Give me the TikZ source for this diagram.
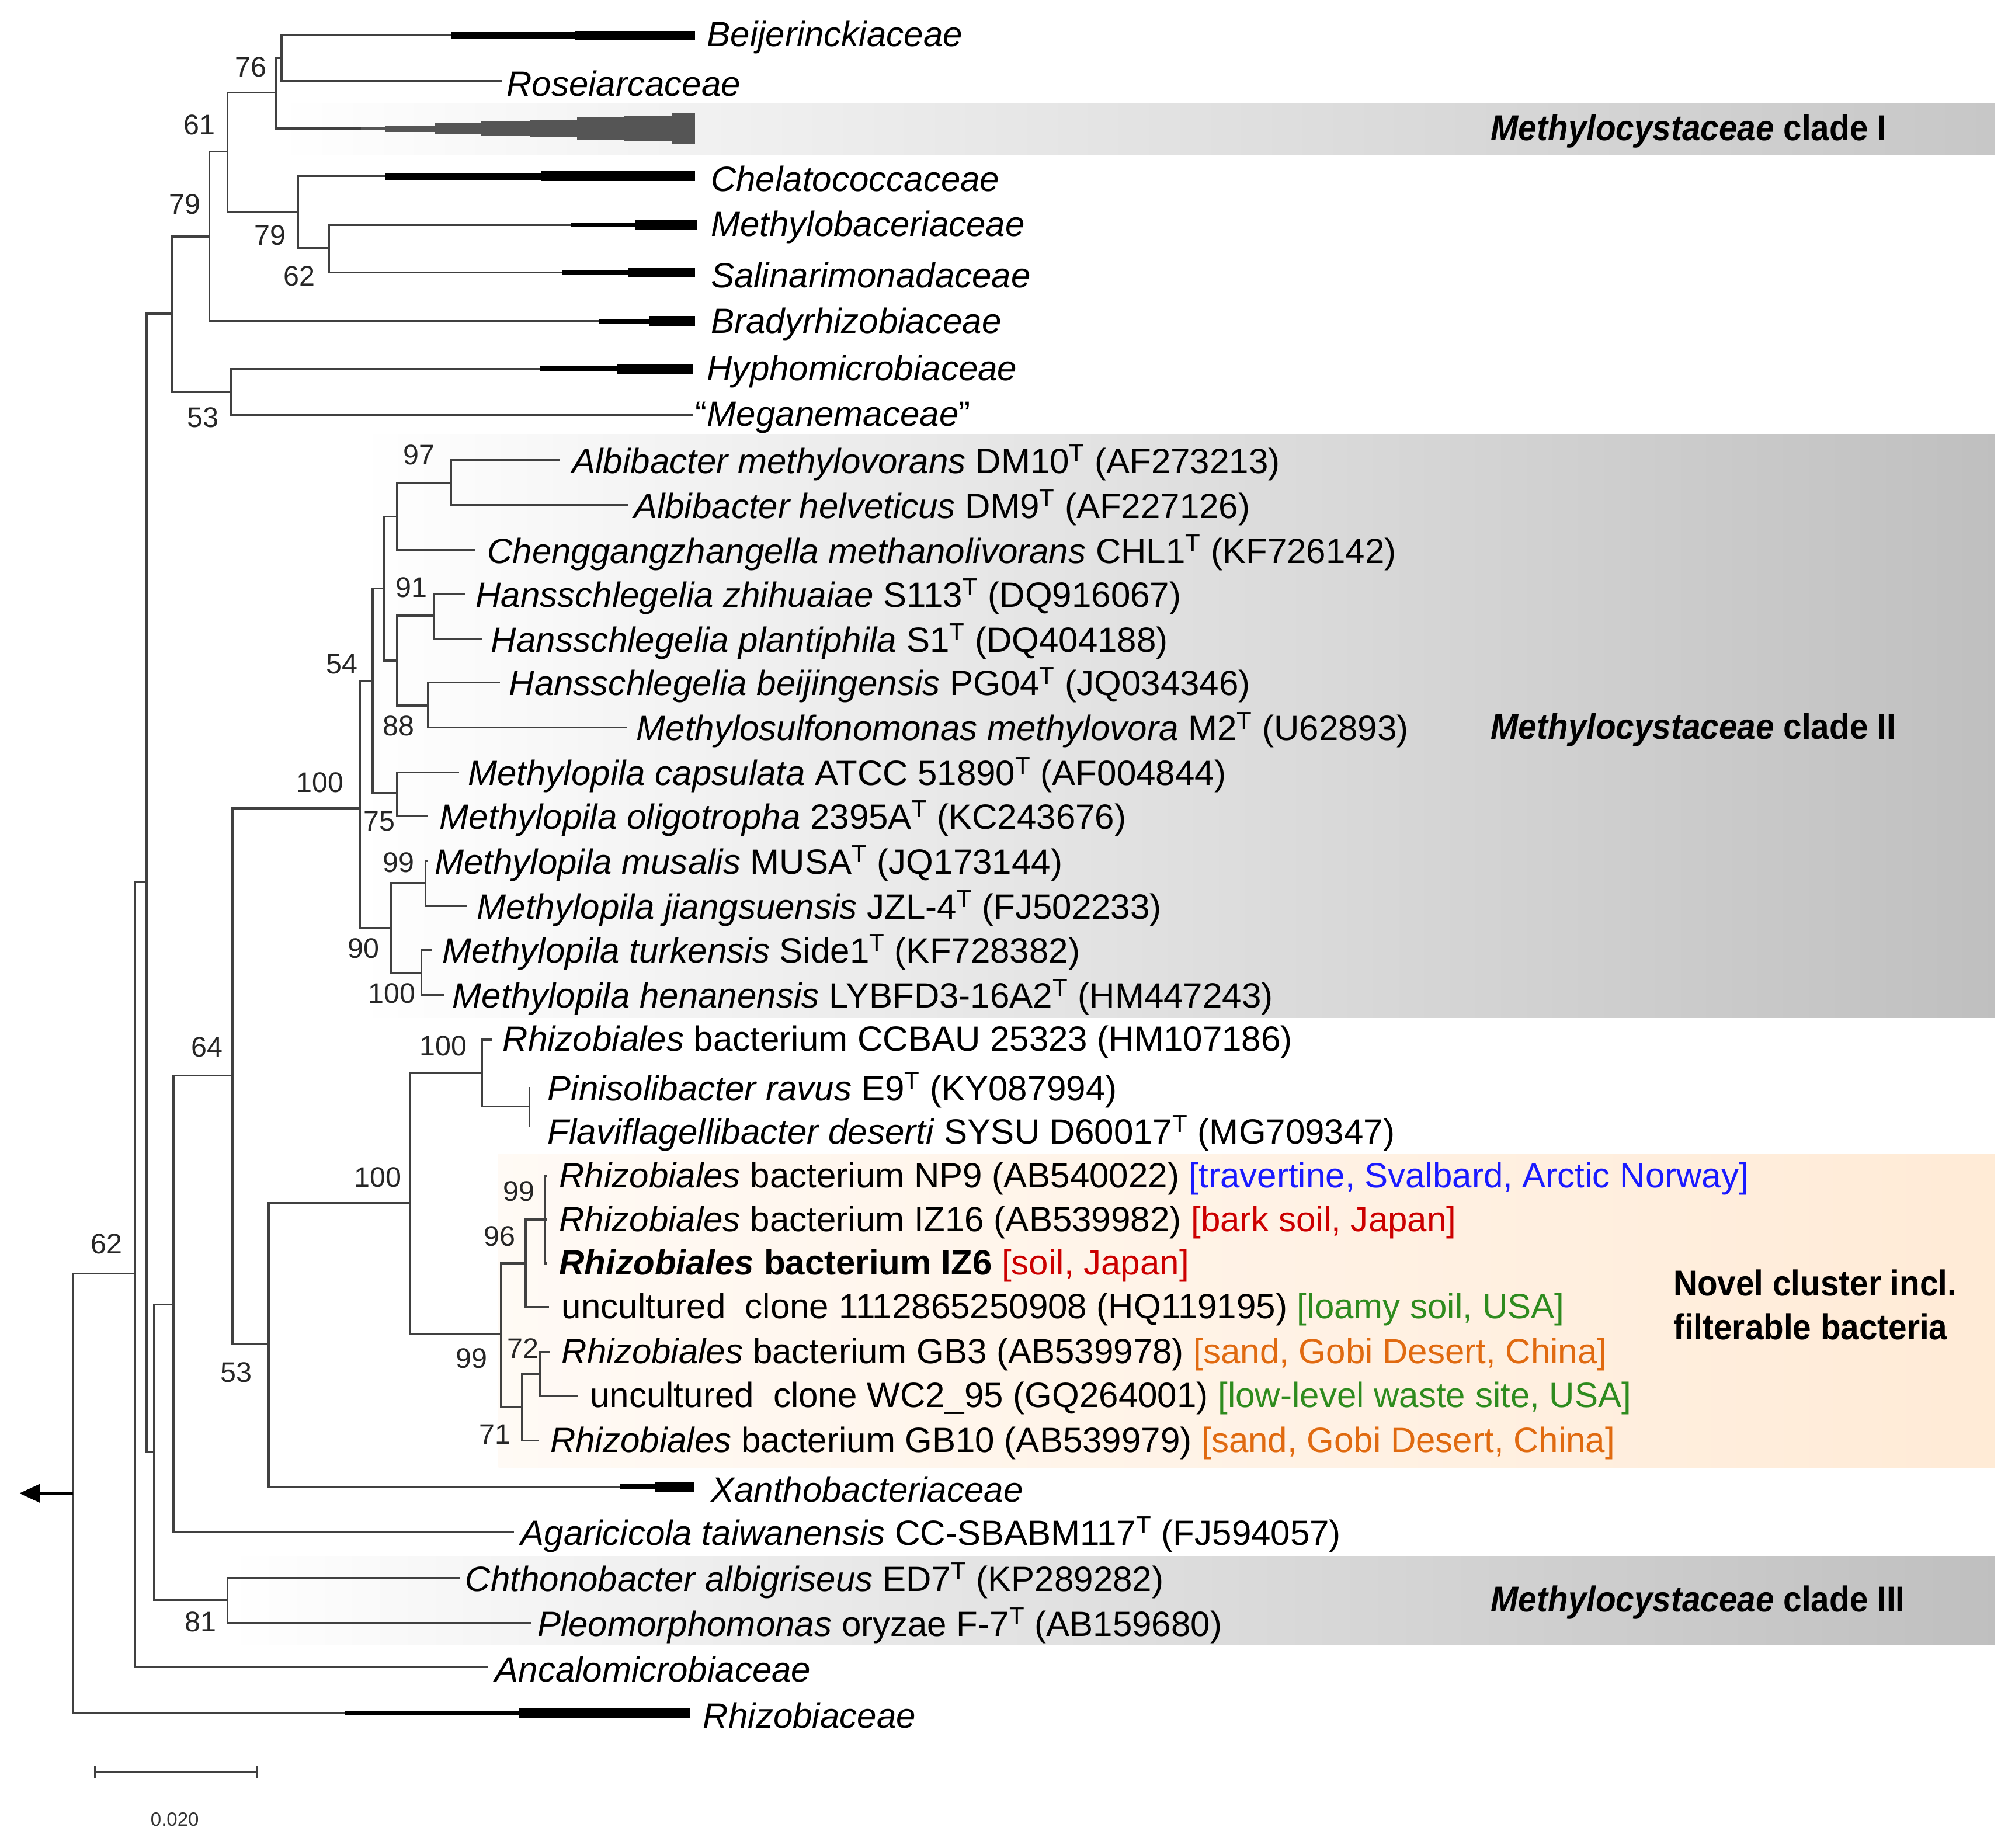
\documentclass[tikz,border=0pt]{standalone}
\usepackage{fontspec}
\setmainfont{Liberation Sans}
\newfontfamily\narrowbf{Liberation Sans}[FakeStretch=0.92]
\usetikzlibrary{arrows.meta}
\definecolor{tree}{HTML}{404040}
\definecolor{wedge}{HTML}{555555}
\definecolor{cblue}{HTML}{1A1AFF}
\definecolor{cred}{HTML}{CC0000}
\definecolor{cgreen}{HTML}{2E8B1E}
\definecolor{corange}{HTML}{E06A10}
\newcommand\tx[1]{\textit{#1}}
\newcommand\sT{\textsuperscript{T}}
\begin{document}
\begin{tikzpicture}[x=1pt,y=-1pt,
  lbl/.style={anchor=west,inner sep=0pt,yshift=-2pt,font=\fontsize{27.3}{30}\selectfont},
  bs/.style={inner sep=0pt,font=\fontsize{22}{24}\selectfont,text=black!85},
  br/.style={line width=1.6pt,draw=tree},
  clade/.style={anchor=west,inner sep=0pt,yshift=-1pt,font=\fontsize{28}{30}\narrowbf\bfseries}]
\useasboundingbox (0,0) rectangle (1568,1438);
% ---- background boxes
\shade[left color=white,right color=black!22] (215,80) rectangle (1552,120);
\shade[left color=white,right color=black!25] (280,338) rectangle (1552,792);
\shade[left color=white,right color=black!25] (177,1211) rectangle (1552,1280);
\shade[left color=orange!4,right color=orange!16] (388,898) rectangle (1552,1142);
\node[clade] (cl1) at (1160,101) {\textit{Methylocystaceae} clade I};
\node[clade] (cl2) at (1160,567) {\textit{Methylocystaceae} clade II};
\node[clade] (cl3) at (1160,1246) {\textit{Methylocystaceae} clade III};
\node[anchor=north west,inner sep=0pt,align=left,font=\fontsize{28}{34}\narrowbf\bfseries] (nov) at (1302,988) {Novel cluster incl.\\filterable bacteria};
% ---- internal node coordinates
\coordinate (R) at (57,1162);
\coordinate (A105) at (105,991);
\coordinate (B114) at (114,686);
\coordinate (C134) at (134,244);
\coordinate (E163) at (163,184);
\coordinate (F177) at (177,118);
\coordinate (G215) at (215,72);
\coordinate (N76) at (219,45);
\coordinate (N79) at (232,165);
\coordinate (N62) at (256,193);
\coordinate (N53) at (180,305);
\coordinate (D120) at (120,1130);
\coordinate (H135) at (135,1015);
\coordinate (I181) at (181,837);
\coordinate (J209) at (209,1046);
\coordinate (K319) at (319,936);
\coordinate (L375) at (375,835);
\coordinate (P412) at (412,861);
\coordinate (M390) at (390,1038);
\coordinate (N409) at (409,983);
\coordinate (N424) at (424,949);
\coordinate (N406) at (406,1095);
\coordinate (N420) at (420,1069);
\coordinate (CII) at (280,629);
\coordinate (S290) at (290,530);
\coordinate (T304) at (304,722);
\coordinate (U299) at (299,458);
\coordinate (V309) at (309,617);
\coordinate (W309) at (309,402);
\coordinate (X309) at (309,514);
\coordinate (N97) at (351,376);
\coordinate (N91) at (338,479);
\coordinate (N88) at (333,549);
\coordinate (N99b) at (331,687);
\coordinate (N100c) at (328,757);
\coordinate (N81) at (177,1245);
% ---- tips
\coordinate (t1) at (351,27);   \coordinate (t2) at (391,63);  \coordinate (t3) at (281,100);
\coordinate (t4) at (300,137);  \coordinate (t5) at (444,175); \coordinate (t6) at (437,212);
\coordinate (t7) at (466,250);  \coordinate (t8) at (420,287); \coordinate (t9) at (539,323);
\coordinate (t10) at (436,358); \coordinate (t11) at (489,393); \coordinate (t12) at (370,428);
\coordinate (t13) at (362,462); \coordinate (t14) at (375,497); \coordinate (t15) at (389,531);
\coordinate (t16) at (488,566); \coordinate (t17) at (357,601); \coordinate (t18) at (333,635);
\coordinate (t19) at (333,670); \coordinate (t20) at (363,705); \coordinate (t21) at (336,739);
\coordinate (t22) at (346,774); \coordinate (t23) at (383,809); \coordinate (t24) at (412,846);
\coordinate (t25) at (412,877); \coordinate (t26) at (426,915); \coordinate (t27) at (426,949);
\coordinate (t28) at (426,983); \coordinate (t29) at (427,1017); \coordinate (t30) at (428,1052);
\coordinate (t31) at (450,1086); \coordinate (t32) at (419,1121); \coordinate (t33) at (482,1157);
\coordinate (t34) at (400,1192); \coordinate (t35) at (358,1228); \coordinate (t36) at (413,1263);
\coordinate (t37) at (380,1297); \coordinate (t38) at (268,1333);
\coordinate (rootend) at (15,1162);
% ---- branches
\draw[br] (R) |- (A105); \draw[br] (R) |- (t38);
\draw[br] (A105) |- (B114); \draw[br] (A105) |- (t37);
\draw[br] (B114) |- (C134); \draw[br] (B114) |- (D120);
\draw[br] (C134) |- (E163); \draw[br] (C134) |- (N53);
\draw[br] (E163) |- (F177); \draw[br] (E163) |- (t7);
\draw[br] (F177) |- (G215); \draw[br] (F177) |- (N79);
\draw[br] (G215) |- (N76); \draw[br] (G215) |- (t3);
\draw[br] (N76) |- (t1); \draw[br] (N76) |- (t2);
\draw[br] (N79) |- (t4); \draw[br] (N79) |- (N62);
\draw[br] (N62) |- (t5); \draw[br] (N62) |- (t6);
\draw[br] (N53) |- (t8); \draw[br] (N53) |- (t9);
\draw[br] (D120) |- (H135); \draw[br] (D120) |- (N81);
\draw[br] (H135) |- (I181); \draw[br] (H135) |- (t34);
\draw[br] (I181) |- (CII); \draw[br] (I181) |- (J209);
\draw[br] (J209) |- (K319); \draw[br] (J209) |- (t33);
\draw[br] (K319) |- (L375); \draw[br] (K319) |- (M390);
\draw[br] (L375) |- (t23); \draw[br] (L375) |- (P412);
\draw[br] (P412) |- (t24); \draw[br] (P412) |- (t25);
\draw[br] (M390) |- (N409); \draw[br] (M390) |- (N406);
\draw[br] (N409) |- (N424); \draw[br] (N409) |- (t29);
\draw[br] (N424) |- (t26); \draw[br] (N424) |- (t27); \draw[br] (N424) |- (t28);
\draw[br] (N406) |- (N420); \draw[br] (N406) |- (t32);
\draw[br] (N420) |- (t30); \draw[br] (N420) |- (t31);
\draw[br] (CII) |- (S290); \draw[br] (CII) |- (T304);
\draw[br] (S290) |- (U299); \draw[br] (S290) |- (V309);
\draw[br] (U299) |- (W309); \draw[br] (U299) |- (X309);
\draw[br] (W309) |- (N97); \draw[br] (W309) |- (t12);
\draw[br] (N97) |- (t10); \draw[br] (N97) |- (t11);
\draw[br] (X309) |- (N91); \draw[br] (X309) |- (N88);
\draw[br] (N91) |- (t13); \draw[br] (N91) |- (t14);
\draw[br] (N88) |- (t15); \draw[br] (N88) |- (t16);
\draw[br] (V309) |- (t17); \draw[br] (V309) |- (t18);
\draw[br] (T304) |- (N99b); \draw[br] (T304) |- (N100c);
\draw[br] (N99b) |- (t19); \draw[br] (N99b) |- (t20);
\draw[br] (N100c) |- (t21); \draw[br] (N100c) |- (t22);
\draw[br] (N81) |- (t35); \draw[br] (N81) |- (t36);
\draw[line width=2.4pt,-{Triangle[length=16pt,width=14pt]}] (R) -- (rootend);
% ---- collapsed clades
\fill (351,25) rectangle (447,30); \fill (447,24) rectangle (541,31);
\fill (300,135) rectangle (421,140); \fill (421,133) rectangle (541,141);
\fill (444,173) rectangle (494,177); \fill (494,171) rectangle (542,179);
\fill (437,210) rectangle (489,214); \fill (489,208) rectangle (541,216);
\fill (466,248) rectangle (505,252); \fill (505,246) rectangle (541,254);
\fill (420,285) rectangle (480,289); \fill (480,283) rectangle (539,291);
\fill (268,1331) rectangle (404,1335); \fill (404,1329) rectangle (537,1337);
\fill (482,1155) rectangle (510,1159); \fill (510,1153) rectangle (540,1161);
\fill[wedge] (281,98.5) rectangle (300,101.5);
\fill[wedge] (300,97.5) rectangle (338,102.5);
\fill[wedge] (338,96) rectangle (374,104);
\fill[wedge] (374,94.5) rectangle (412,105.5);
\fill[wedge] (412,93) rectangle (449,107);
\fill[wedge] (449,91.5) rectangle (486,108.5);
\fill[wedge] (486,90) rectangle (523,110);
\fill[wedge] (523,88) rectangle (541,112);
% ---- labels
\node[lbl] (l1) at (550,27) {\tx{Beijerinckiaceae}};
\node[lbl] (l2) at (394,63) {\tx{Roseiarcaceae}};
\node[lbl] (l4) at (553,137) {\tx{Chelatococcaceae}};
\node[lbl] (l5) at (553,175) {\tx{Methylobaceriaceae}};
\node[lbl] (l6) at (553,212) {\tx{Salinarimonadaceae}};
\node[lbl] (l7) at (553,250) {\tx{Bradyrhizobiaceae}};
\node[lbl] (l8) at (550,287) {\tx{Hyphomicrobiaceae}};
\node[lbl] (l9) at (541,323) {“\tx{Meganemaceae}”};
\node[lbl] (l10) at (445,358) {\tx{Albibacter methylovorans} DM10\sT{} (AF273213)};
\node[lbl] (l11) at (493,393) {\tx{Albibacter helveticus} DM9\sT{} (AF227126)};
\node[lbl] (l12) at (379,428) {\tx{Chenggangzhangella methanolivorans} CHL1\sT{} (KF726142)};
\node[lbl] (l13) at (370,462) {\tx{Hansschlegelia zhihuaiae} S113\sT{} (DQ916067)};
\node[lbl] (l14) at (382,497) {\tx{Hansschlegelia plantiphila} S1\sT{} (DQ404188)};
\node[lbl] (l15) at (396,531) {\tx{Hansschlegelia beijingensis} PG04\sT{} (JQ034346)};
\node[lbl] (l16) at (495,566) {\tx{Methylosulfonomonas methylovora} M2\sT{} (U62893)};
\node[lbl] (l17) at (364,601) {\tx{Methylopila capsulata} ATCC 51890\sT{} (AF004844)};
\node[lbl] (l18) at (342,635) {\tx{Methylopila oligotropha} 2395A\sT{} (KC243676)};
\node[lbl] (l19) at (338,670) {\tx{Methylopila musalis} MUSA\sT{} (JQ173144)};
\node[lbl] (l20) at (371,705) {\tx{Methylopila jiangsuensis} JZL-4\sT{} (FJ502233)};
\node[lbl] (l21) at (344,739) {\tx{Methylopila turkensis} Side1\sT{} (KF728382)};
\node[lbl] (l22) at (352,774) {\tx{Methylopila henanensis} LYBFD3-16A2\sT{} (HM447243)};
\node[lbl] (l23) at (391,809) {\tx{Rhizobiales} bacterium CCBAU 25323 (HM107186)};
\node[lbl] (l24) at (426,846) {\tx{Pinisolibacter ravus} E9\sT{} (KY087994)};
\node[lbl] (l25) at (426,880) {\tx{Flaviflagellibacter deserti} SYSU D60017\sT{} (MG709347)};
\node[lbl] (l26) at (435,915) {\tx{Rhizobiales} bacterium NP9 (AB540022) \textcolor{cblue}{[travertine, Svalbard, Arctic Norway]}};
\node[lbl] (l27) at (435,949) {\tx{Rhizobiales} bacterium IZ16 (AB539982) \textcolor{cred}{[bark soil, Japan]}};
\node[lbl] (l28) at (435,983) {\textbf{\textit{Rhizobiales} bacterium IZ6} \textcolor{cred}{[soil, Japan]}};
\node[lbl] (l29) at (437,1017) {uncultured\ \ clone 1112865250908 (HQ119195) \textcolor{cgreen}{[loamy soil, USA]}};
\node[lbl] (l30) at (437,1052) {\tx{Rhizobiales} bacterium GB3 (AB539978) \textcolor{corange}{[sand, Gobi Desert, China]}};
\node[lbl] (l31) at (459,1086) {uncultured\ \ clone WC2\_95 (GQ264001) \textcolor{cgreen}{[low-level waste site, USA]}};
\node[lbl] (l32) at (428,1121) {\tx{Rhizobiales} bacterium GB10 (AB539979) \textcolor{corange}{[sand, Gobi Desert, China]}};
\node[lbl] (l33) at (553,1157) {\tx{Xanthobacteriaceae}};
\node[lbl] (l34) at (405,1192) {\tx{Agaricicola taiwanensis} CC-SBABM117\sT{} (FJ594057)};
\node[lbl] (l35) at (362,1228) {\tx{Chthonobacter albigriseus} ED7\sT{} (KP289282)};
\node[lbl] (l36) at (418,1263) {\tx{Pleomorphomonas} oryzae F-7\sT{} (AB159680)};
\node[lbl] (l37) at (385,1297) {\tx{Ancalomicrobiaceae}};
\node[lbl] (l38) at (547,1333) {\tx{Rhizobiaceae}};
% ---- bootstrap values
\node[bs] (b1) at (195,52) {76};   \node[bs] (b2) at (155,97) {61};
\node[bs] (b3) at (144,159) {79};  \node[bs] (b4) at (210,183) {79};
\node[bs] (b5) at (233,215) {62};  \node[bs] (b6) at (158,325) {53};
\node[bs] (b7) at (326,354) {97};  \node[bs] (b8) at (320,457) {91};
\node[bs] (b9) at (266,517) {54};  \node[bs] (b10) at (249,609) {100};
\node[bs] (b11) at (310,565) {88}; \node[bs] (b12) at (295,639) {75};
\node[bs] (b13) at (310,671) {99}; \node[bs] (b14) at (283,738) {90};
\node[bs] (b15) at (305,773) {100}; \node[bs] (b16) at (161,815) {64};
\node[bs] (b17) at (345,814) {100}; \node[bs] (b18) at (294,916) {100};
\node[bs] (b19) at (404,927) {99}; \node[bs] (b20) at (389,962) {96};
\node[bs] (b21) at (367,1057) {99}; \node[bs] (b22) at (407,1049) {72};
\node[bs] (b23) at (385,1116) {71}; \node[bs] (b24) at (184,1068) {53};
\node[bs] (b25) at (83,968) {62};  \node[bs] (b26) at (156,1262) {81};
% ---- scale bar
\coordinate (s1) at (73,1379); \coordinate (s2) at (201,1379);
\draw[line width=1.4pt,draw=tree,{Bar[width=10pt]}-{Bar[width=10pt]}] (s1) -- (s2);
\node[inner sep=0pt,font=\fontsize{15}{17}\selectfont,text=black!80] (sl) at (136,1416) {0.020};
\end{tikzpicture}
\end{document}
